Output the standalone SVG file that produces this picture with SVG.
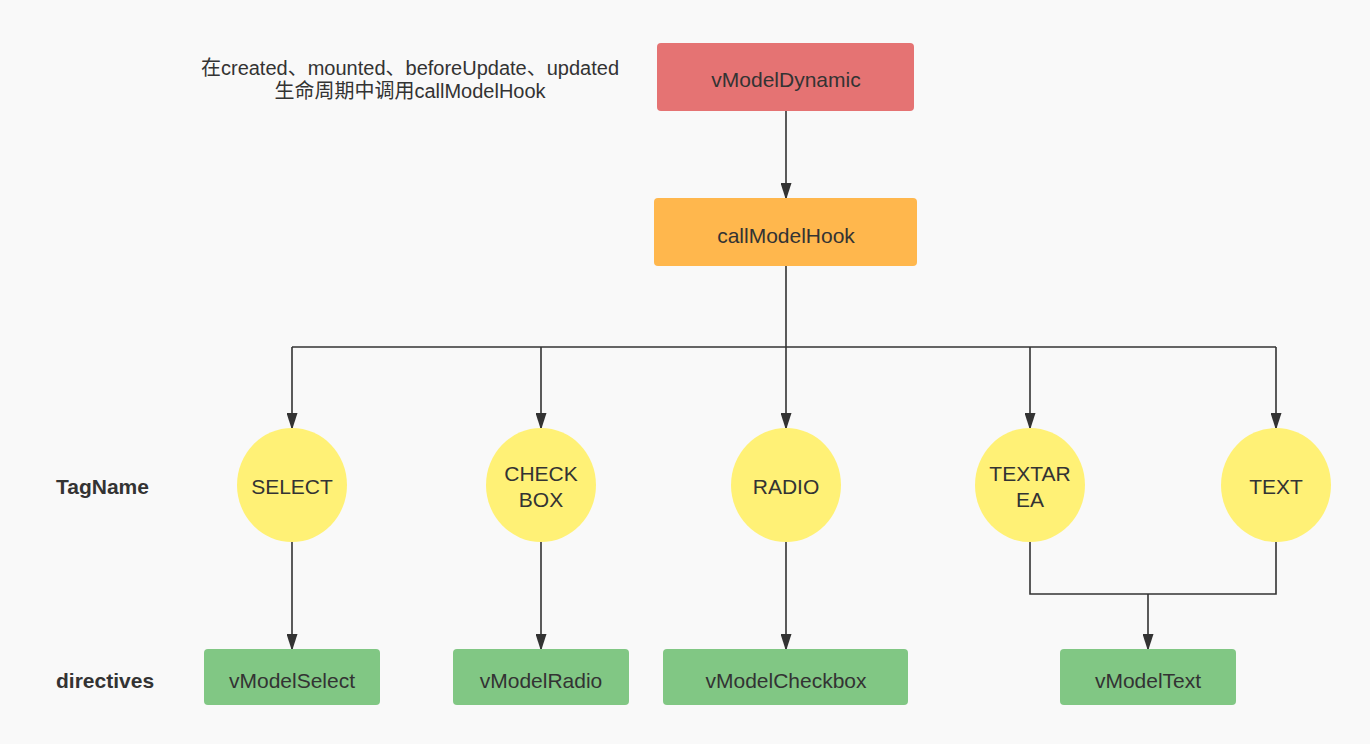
<svg xmlns="http://www.w3.org/2000/svg" width="1370" height="744" viewBox="0 0 1370 744">
<defs>
<marker id="arr" markerWidth="17" markerHeight="11" refX="15" refY="5.5" orient="auto" markerUnits="userSpaceOnUse" viewBox="0 0 17 11">
<path d="M0,0 L17,5.5 L0,11 Z" fill="#333"/>
</marker>
<style>
text{font-family:"Liberation Sans","Noto Sans CJK SC",sans-serif;fill:#333;text-anchor:middle;dominant-baseline:central}
.n{font-size:21px}
.lbl{font-size:21px;font-weight:bold;text-anchor:start}
.note{font-size:20px}
.c line,.c path{stroke:#333;stroke-width:1.6;fill:none}
.y{fill:#FFF176}
.g{fill:#81C784}
</style>
</defs>
<rect width="1370" height="744" fill="#f9f9f9"/>
<g id="note">
<text class="note" x="410" y="68">在created、mounted、beforeUpdate、updated</text>
<text class="note" x="410" y="91">生命周期中调用callModelHook</text>
</g>
<g id="label-tagname"><text class="lbl" x="56" y="486">TagName</text></g>
<g id="label-directives"><text class="lbl" x="56" y="680">directives</text></g>
<g class="c" id="connectors">
<line x1="786" y1="111" x2="786" y2="198" marker-end="url(#arr)"/>
<path d="M786,266 V347"/>
<path d="M292,347 H1276"/>
<line x1="292" y1="347" x2="292" y2="428" marker-end="url(#arr)"/>
<line x1="541" y1="347" x2="541" y2="428" marker-end="url(#arr)"/>
<line x1="786" y1="347" x2="786" y2="428" marker-end="url(#arr)"/>
<line x1="1030" y1="347" x2="1030" y2="428" marker-end="url(#arr)"/>
<line x1="1276" y1="347" x2="1276" y2="428" marker-end="url(#arr)"/>
<line x1="292" y1="542" x2="292" y2="649" marker-end="url(#arr)"/>
<line x1="541" y1="542" x2="541" y2="649" marker-end="url(#arr)"/>
<line x1="786" y1="542" x2="786" y2="649" marker-end="url(#arr)"/>
<path d="M1030,542 V594 H1276 V542"/>
<line x1="1148" y1="594" x2="1148" y2="649" marker-end="url(#arr)"/>
</g>
<g id="vModelDynamic"><rect x="657" y="43" width="257" height="68" rx="4" fill="#E57373"/><text class="n" x="786" y="79">vModelDynamic</text></g>
<g id="callModelHook"><rect x="654" y="198" width="263" height="68" rx="4" fill="#FFB74D"/><text class="n" x="786" y="235">callModelHook</text></g>
<g id="SELECT"><ellipse class="y" cx="292" cy="485" rx="55" ry="57"/><text class="n" x="292" y="486">SELECT</text></g>
<g id="CHECKBOX"><ellipse class="y" cx="541" cy="485" rx="55" ry="57"/><text class="n" x="541" y="473">CHECK</text><text class="n" x="541" y="499">BOX</text></g>
<g id="RADIO"><ellipse class="y" cx="786" cy="485" rx="55" ry="57"/><text class="n" x="786" y="486">RADIO</text></g>
<g id="TEXTAREA"><ellipse class="y" cx="1030" cy="485" rx="55" ry="57"/><text class="n" x="1030" y="473">TEXTAR</text><text class="n" x="1030" y="499">EA</text></g>
<g id="TEXT"><ellipse class="y" cx="1276" cy="485" rx="55" ry="57"/><text class="n" x="1276" y="486">TEXT</text></g>
<g id="vModelSelect"><rect class="g" x="204" y="649" width="176" height="56" rx="4"/><text class="n" x="292" y="680">vModelSelect</text></g>
<g id="vModelRadio"><rect class="g" x="453" y="649" width="176" height="56" rx="4"/><text class="n" x="541" y="680">vModelRadio</text></g>
<g id="vModelCheckbox"><rect class="g" x="663" y="649" width="245" height="56" rx="4"/><text class="n" x="786" y="680">vModelCheckbox</text></g>
<g id="vModelText"><rect class="g" x="1060" y="649" width="176" height="56" rx="4"/><text class="n" x="1148" y="680">vModelText</text></g>
</svg>
